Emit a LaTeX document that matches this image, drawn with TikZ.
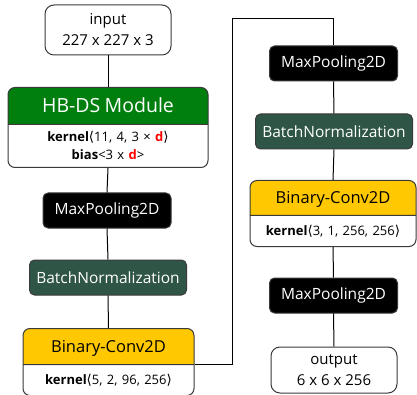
\documentclass[tikz,border=0pt]{standalone}
\usepackage{fontspec}
\setmainfont{Open Sans}
\newfontfamily\brkfont{DejaVu Sans}
\usetikzlibrary{shapes.multipart}

\definecolor{hbgreen}{HTML}{007F0E}
\definecolor{bngreen}{HTML}{2F5546}
\definecolor{convyellow}{HTML}{FFC800}
\definecolor{edgegray}{HTML}{3A3A3A}

\newcommand{\lbr}{{\brkfont\fontsize{13.5}{12}\selectfont ⟨}}
\newcommand{\rbr}{{\brkfont\fontsize{13.5}{12}\selectfont ⟩}}
\newcommand{\dd}{\textcolor{red}{\textbf{d}}}

\begin{document}
\begin{tikzpicture}[
  x=1pt, y=-1pt, line width=1pt,
  io/.style={rectangle, rounded corners=9pt, draw=edgegray, fill=white,
             minimum width=126pt, align=center, font=\fontsize{15}{21}\selectfont},
  pool/.style={rectangle, rounded corners=5pt, draw=edgegray, fill=black, text=white,
               minimum width=128pt, minimum height=35pt, font=\fontsize{15.5}{17}\selectfont},
  norm/.style={rectangle, rounded corners=5pt, draw=edgegray, fill=bngreen, text=white,
               minimum width=157pt, minimum height=35pt, inner xsep=2pt,
               font=\fontsize{15.5}{17}\selectfont},
  block/.style 2 args={rectangle split, rectangle split parts=2,
               rectangle split part fill={#1,white}, rounded corners=7pt, draw=edgegray,
               inner xsep=0pt, inner ysep=0pt, text width=#2, align=center, anchor=north,
               font=\fontsize{13}{18}\selectfont},
]
\useasboundingbox (0,0) rectangle (417,395);

% ---- Left column ----
\node[io, minimum height=50pt] (in) at (108,30) {input\\227 x 227 x 3};
\node[block={hbgreen}{200pt}] (hb) at (108,87)
  {\color{white}\fontsize{19.5}{21}\selectfont\rule[-11.2pt]{0pt}{36pt}HB-DS Module
   \nodepart{two}\rule{0pt}{16.5pt}\textbf{kernel}\lbr11, 4, 3 × \dd\rbr\\
   \textbf{bias}<3 x \dd>\rule[-7.5pt]{0pt}{7.5pt}};
\node[pool] (mp1) at (107,210.5) {MaxPooling2D};
\node[norm] (bn1) at (108,277.5) {BatchNormalization};
\node[block={convyellow}{171pt}] (bc1) at (108.5,328)
  {\fontsize{16.5}{18}\selectfont\rule[-11.6pt]{0pt}{35pt}Binary-Conv2D
   \nodepart{two}\rule[-10.6pt]{0pt}{30pt}\textbf{kernel}\lbr5, 2, 96, 256\rbr};

% ---- Right column ----
\node[pool] (mp2) at (333.5,63.5) {MaxPooling2D};
\node[norm] (bn2) at (334,131.5) {BatchNormalization};
\node[block={convyellow}{166pt}] (bc2) at (333,180)
  {\fontsize{16.5}{18}\selectfont\rule[-11.3pt]{0pt}{34pt}Binary-Conv2D
   \nodepart{two}\rule[-10.6pt]{0pt}{30pt}\textbf{kernel}\lbr3, 1, 256, 256\rbr};
\node[pool] (mp3) at (333.5,295.5) {MaxPooling2D};
\node[io, minimum height=46pt] (out) at (334,370) {output\\6 x 6 x 256};

% ---- connectors ----
\coordinate (turn) at (232,19);
\draw (in.south) -- (hb.north);
\draw (hb.south) -- (mp1.north);
\draw (mp1.south) -- (bn1.north);
\draw (bn1.south) -- (bc1.north);
\draw (bc1.one split east) -| (turn) -| (mp2.north);
\draw (mp2.south) -- (bn2.north);
\draw (bn2.south) -- (bc2.north);
\draw (bc2.south) -- (mp3.north);
\draw (mp3.south) -- (out.north);

\end{tikzpicture}
\end{document}
